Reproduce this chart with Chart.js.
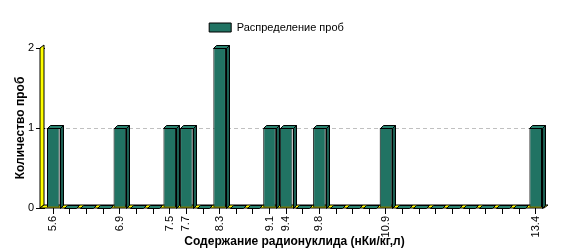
<!DOCTYPE html>
<html>
<head>
<meta charset="utf-8">
<script src="https://cdn.jsdelivr.net/npm/chart.js@4/dist/chart.umd.min.js"></script>
<style>
  html, body { margin: 0; padding: 0; background: #fff; }
  #wrap { width: 561px; height: 249px; }
</style>
</head>
<body>
<div id="wrap"><canvas id="chart" width="561" height="249"></canvas></div>
<script>
// ---- Datos ----
const categorias = ['5.6', '', '', '', '6.9', '', '', '7.5', '7.7', '', '8.3', '', '', '9.1', '9.4', '',
  '9.8', '', '', '', '10.9', '', '', '', '', '', '', '', '', '13.4'];
const muestras = [1, 0, 0, 0, 1, 0, 0, 1, 1, 0, 2, 0, 0, 1, 1, 0,
  1, 0, 0, 0, 1, 0, 0, 0, 0, 0, 0, 0, 0, 1];
const ticksY = [0, 1, 2];

const FUENTE = "'Liberation Sans', Arial, sans-serif";
const PROF = 3; // profundidad 3D

// hueco extra bajo la leyenda
const leyendaHueco = {
  id: 'leyendaHueco',
  beforeInit(chart) {
    const fitOrig = chart.legend.fit;
    chart.legend.fit = function () {
      fitOrig.call(this);
      this.height += 5;
    };
  },
};

// pared amarilla, suelo y caras 3D de las barras
const efecto3d = {
  id: 'efecto3d',
  beforeDatasetsDraw(chart) {
    const { ctx, chartArea: a } = chart;
    ctx.save();
    ctx.fillStyle = '#ffff00';
    ctx.strokeStyle = '#000';
    ctx.lineWidth = 1;
    ctx.beginPath();
    ctx.moveTo(a.left - 5, a.bottom);
    ctx.lineTo(a.left - 5, a.top);
    ctx.lineTo(a.left - 1, a.top - PROF);
    ctx.lineTo(a.left - 1, a.bottom - PROF);
    ctx.closePath();
    ctx.fill(); ctx.stroke();
    ctx.beginPath();
    ctx.moveTo(a.left - 5, a.bottom);
    ctx.lineTo(a.left - 1, a.bottom - PROF);
    ctx.lineTo(a.right + 4, a.bottom - PROF);
    ctx.lineTo(a.right, a.bottom);
    ctx.closePath();
    ctx.fill(); ctx.stroke();
    ctx.restore();
  },
  afterDatasetsDraw(chart) {
    const { ctx } = chart;
    const meta = chart.getDatasetMeta(0);
    ctx.save();
    ctx.strokeStyle = '#000';
    ctx.lineWidth = 1;
    meta.data.forEach((bar) => {
      const { x, y, base, width } = bar.getProps(['x', 'y', 'base', 'width'], true);
      const l = Math.round(x - width / 2) + 0.5;
      const r = Math.round(x + width / 2) + 0.5;
      const t = Math.round(y) + 0.5;
      const b = Math.round(base) + 0.5;
      // cara superior
      ctx.fillStyle = '#28826f';
      ctx.beginPath();
      ctx.moveTo(l, t);
      ctx.lineTo(l + PROF, t - PROF);
      ctx.lineTo(r + PROF, t - PROF);
      ctx.lineTo(r, t);
      ctx.closePath();
      ctx.fill(); ctx.stroke();
      if (b - t > 1) {
        // cara lateral
        ctx.fillStyle = '#1b5e52';
        ctx.beginPath();
        ctx.moveTo(r, t);
        ctx.lineTo(r + PROF, t - PROF);
        ctx.lineTo(r + PROF, b - PROF);
        ctx.lineTo(r, b);
        ctx.closePath();
        ctx.fill(); ctx.stroke();
      }
    });
    ctx.restore();
  },
};

new Chart(document.getElementById('chart'), {
  type: 'bar',
  data: {
    labels: categorias,
    datasets: [{
      label: 'Распределение проб',
      data: muestras,
      backgroundColor: '#217363',
      borderColor: '#000',
      borderWidth: 1,
      borderSkipped: false,
      barPercentage: 0.76,
      categoryPercentage: 1,
    }],
  },
  options: {
    responsive: false,
    animation: false,
    layout: { padding: { left: 9, right: 17, top: 12, bottom: 0 } },
    plugins: {
      legend: {
        position: 'top',
        labels: { boxWidth: 22, boxHeight: 9, color: '#000', font: { family: FUENTE, size: 11 } },
      },
      tooltip: { enabled: false },
    },
    scales: {
      x: {
        afterFit: (s) => { s.height = 41; },
        border: { display: false },
        grid: { offset: false, drawOnChartArea: false, tickLength: 6, tickColor: '#000' },
        ticks: {
          autoSkip: false, maxRotation: 90, minRotation: 90, padding: 2,
          color: '#000', font: { family: FUENTE, size: 11 },
        },
        title: {
          display: true, text: 'Содержание радионуклида (нКи/кг,л)', color: '#000',
          font: { family: FUENTE, size: 12, weight: 'bold' }, padding: { top: 4, bottom: 0 },
        },
      },
      y: {
        min: 0, max: 2,
        afterFit: (s) => { s.width = 36; },
        afterBuildTicks: (s) => { s.ticks = ticksY.map((v) => ({ value: v })); },
        border: { display: false, dash: [4, 3] },
        grid: {
          color: (c) => (c.tick && c.tick.value === 1 ? '#c0c0c0' : 'rgba(0,0,0,0)'),
          tickColor: '#000', tickLength: 9, tickBorderDash: [],
        },
        ticks: { padding: 2, color: '#000', font: { family: FUENTE, size: 11 } },
        title: {
          display: true, text: 'Количество проб', color: '#000',
          font: { family: FUENTE, size: 12, weight: 'bold' },
        },
      },
    },
  },
  plugins: [leyendaHueco, efecto3d],
});
</script>
</body>
</html>
